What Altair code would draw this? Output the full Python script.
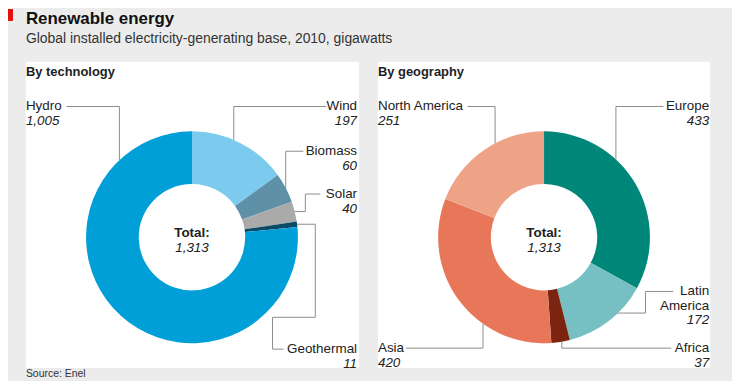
import math
import altair as alt
import pandas as pd

# ---------------- data ----------------
tech_names = ["Wind", "Biomass", "Solar", "Geothermal", "Hydro"]
tech_values = [197, 60, 40, 11, 1005]
tech_labels = ["197", "60", "40", "11", "1,005"]
tech_colors = ["#7ccbef", "#5e90a8", "#aaaaaa", "#0b4a66", "#009fd8"]

geo_names = ["Europe", "Latin America", "Africa", "Asia", "North America"]
geo_values = [433, 172, 37, 420, 251]
geo_labels = ["433", "172", "37", "420", "251"]
geo_colors = ["#00877a", "#76c0c3", "#7b2511", "#e8775a", "#eea286"]

total_label = "1,313"

# ---------------- layout (reference pixel space) ----------------
FONT = "Liberation Sans"
BG = "#ececec"
W, H = 728, 373
OFF = 8  # page margin
XS = alt.Scale(domain=[OFF, OFF + W], range=[0, W])
YS = alt.Scale(domain=[OFF, OFF + H], range=[0, H])

R_OUT, R_IN = 106.5, 53.5
pies = {
    "tech": dict(cx=193, cy=237.5, names=tech_names, values=tech_values),
    "geo": dict(cx=547, cy=237.5, names=geo_names, values=geo_values),
}
# where on each slice the leader line touches (fraction of slice)
touch_frac = {"Wind": 0.43, "Biomass": 0.5, "Solar": 0.5, "Geothermal": 0.5, "Hydro": 0.843,
              "Europe": 0.36, "Latin America": 0.36, "Africa": 0.44, "Asia": 0.34,
              "North America": 0.60}


def anchors(p):
    tot = sum(p["values"])
    out, cum = {}, 0
    for n, v in zip(p["names"], p["values"]):
        a = (cum + touch_frac[n] * v) / tot * 2 * math.pi
        out[n] = (p["cx"] + R_OUT * math.sin(a), p["cy"] - R_OUT * math.cos(a))
        cum += v
    return out


A = {}
A.update(anchors(pies["tech"]))
A.update(anchors(pies["geo"]))

# leader-line routes: from label end to pie edge
routes = {
    "Hydro": [(67, 106), (A["Hydro"][0], 106), A["Hydro"]],
    "Wind": [(328, 106), (A["Wind"][0], 106), A["Wind"]],
    "Biomass": [(305, 151), (A["Biomass"][0], 151), A["Biomass"]],
    "Solar": [(322, 194), (307, 194), (307, A["Solar"][1]), A["Solar"]],
    "Geothermal": [(285, 350), (274, 350), (274, 318), (317, 318), (317, A["Geothermal"][1]), A["Geothermal"]],
    "North America": [(470, 106), (A["North America"][0], 106), A["North America"]],
    "Europe": [(667, 106), (A["Europe"][0], 106), A["Europe"]],
    "Latin America": [(677, 292), (649, 292), (649, A["Latin America"][1]), A["Latin America"]],
    "Africa": [(675, 349), (A["Africa"][0], 349), A["Africa"]],
    "Asia": [(408, 349), (A["Asia"][0], 349), A["Asia"]],
}

# label positions: (x, y_name, y_value, align)
label_pos = {
    "Hydro": (26, 106, 121, "left"),
    "Wind": (359, 106, 121, "right"),
    "Biomass": (359, 151, 166, "right"),
    "Solar": (359, 194, 209, "right"),
    "Geothermal": (359, 350, 365, "right"),
    "North America": (380, 106, 121, "left"),
    "Europe": (713, 106, 121, "right"),
    "Latin America": (713, 292, 321, "right"),
    "Africa": (713, 349, 364, "right"),
    "Asia": (380, 349, 364, "left"),
}

# ---------------- build tables ----------------
all_names = tech_names + geo_names
all_colors = tech_colors + geo_colors
color_scale = alt.Scale(domain=all_names, range=all_colors)

panels = pd.DataFrame({"x": [26, 380], "x2": [361, 714], "y": [61, 61], "y2": [369, 369]})

line_rows = []
for n, pts in routes.items():
    for i, (px, py) in enumerate(pts):
        line_rows.append({"name": n, "i": i, "x": px, "y": py})
lines_df = pd.DataFrame(line_rows)

name_rows, val_rows = [], []
vals = dict(zip(tech_names + geo_names, tech_labels + geo_labels))
for n, (lx, yn, yv, al) in label_pos.items():
    if n == "Latin America":
        name_rows.append({"t": "Latin", "x": lx, "y": yn, "al": al})
        name_rows.append({"t": "America", "x": lx, "y": yn + 14.5, "al": al})
    else:
        name_rows.append({"t": n, "x": lx, "y": yn, "al": al})
    val_rows.append({"t": vals[n], "x": lx, "y": yv, "al": al})
names_df = pd.DataFrame(name_rows)
vals_df = pd.DataFrame(val_rows)

panel_layer = alt.Chart(panels).mark_rect(color="white").encode(
    x=alt.X("x:Q", scale=XS, axis=None), x2="x2:Q",
    y=alt.Y("y:Q", scale=YS, axis=None), y2="y2:Q")

pie_layers = []
for key, p in pies.items():
    df = pd.DataFrame({"name": p["names"], "value": p["values"],
                       "idx": list(range(len(p["names"]))),
                       "cx": p["cx"], "cy": p["cy"]})
    pie_layers.append(
        alt.Chart(df).mark_arc(radius=R_OUT, radius2=R_IN, stroke=None).encode(
            theta=alt.Theta("value:Q", stack=True),
            order=alt.Order("idx:Q"),
            color=alt.Color("name:N", scale=color_scale, legend=None),
            x=alt.X("cx:Q", scale=XS, axis=None),
            y=alt.Y("cy:Q", scale=YS, axis=None),
        )
    )

lines_layer = alt.Chart(lines_df).mark_line(color="#8c8c8c", strokeWidth=1, interpolate="linear").encode(
    x=alt.X("x:Q", scale=XS, axis=None), y=alt.Y("y:Q", scale=YS, axis=None),
    detail="name:N", order="i:Q")


def text_layer(df, italic=False, bold=False, size=13.5, color="#222222"):
    layers = []
    for al in ["left", "right", "center"]:
        sub = df[df["al"] == al]
        if len(sub) == 0:
            continue
        kw = dict(align=al, baseline="middle", font=FONT, fontSize=size, color=color)
        if italic:
            kw["fontStyle"] = "italic"
        if bold:
            kw["fontWeight"] = "bold"
        layers.append(alt.Chart(sub).mark_text(**kw).encode(
            x=alt.X("x:Q", scale=XS, axis=None), y=alt.Y("y:Q", scale=YS, axis=None), text="t:N"))
    return layers


heads_df = pd.DataFrame({"t": ["By technology", "By geography"], "x": [26, 380], "y": [71, 71], "al": ["left", "left"]})
tot_df = pd.DataFrame({"t": ["Total:", "Total:"], "x": [193, 547], "y": [233, 233], "al": ["center", "center"]})
totv_df = pd.DataFrame({"t": [total_label, total_label], "x": [193, 547], "y": [248, 248], "al": ["center", "center"]})
title_df = pd.DataFrame({"t": ["Renewable energy"], "x": [26], "y": [18], "al": ["left"]})
sub_df = pd.DataFrame({"t": ["Global installed electricity-generating base, 2010, gigawatts"], "x": [26], "y": [38], "al": ["left"]})
src_df = pd.DataFrame({"t": ["Source: Enel"], "x": [26], "y": [375], "al": ["left"]})

red_df = pd.DataFrame({"x": [8], "x2": [13], "y": [8], "y2": [20]})
red_layer = alt.Chart(red_df).mark_rect(color="#e3120b").encode(
    x=alt.X("x:Q", scale=XS, axis=None), x2="x2:Q",
    y=alt.Y("y:Q", scale=YS, axis=None), y2="y2:Q")

layers = [panel_layer, red_layer] + pie_layers + [lines_layer]
layers += text_layer(names_df)
layers += text_layer(vals_df, italic=True)
layers += text_layer(heads_df, bold=True, size=13)
layers += text_layer(tot_df, bold=True, size=13.5)
layers += text_layer(totv_df, italic=True, size=13.5)
layers += text_layer(title_df, bold=True, size=17, color="#111111")
layers += text_layer(sub_df, size=14, color="#333333")
layers += text_layer(src_df, size=10.5, color="#333333")

chart = alt.layer(*layers).properties(
    width=W, height=H, autosize=alt.AutoSizeParams(type="none"), padding=0,
    background=BG,
).configure_view(stroke=None)

chart.save("out.html", embed_options={"renderer": "svg", "actions": False})
